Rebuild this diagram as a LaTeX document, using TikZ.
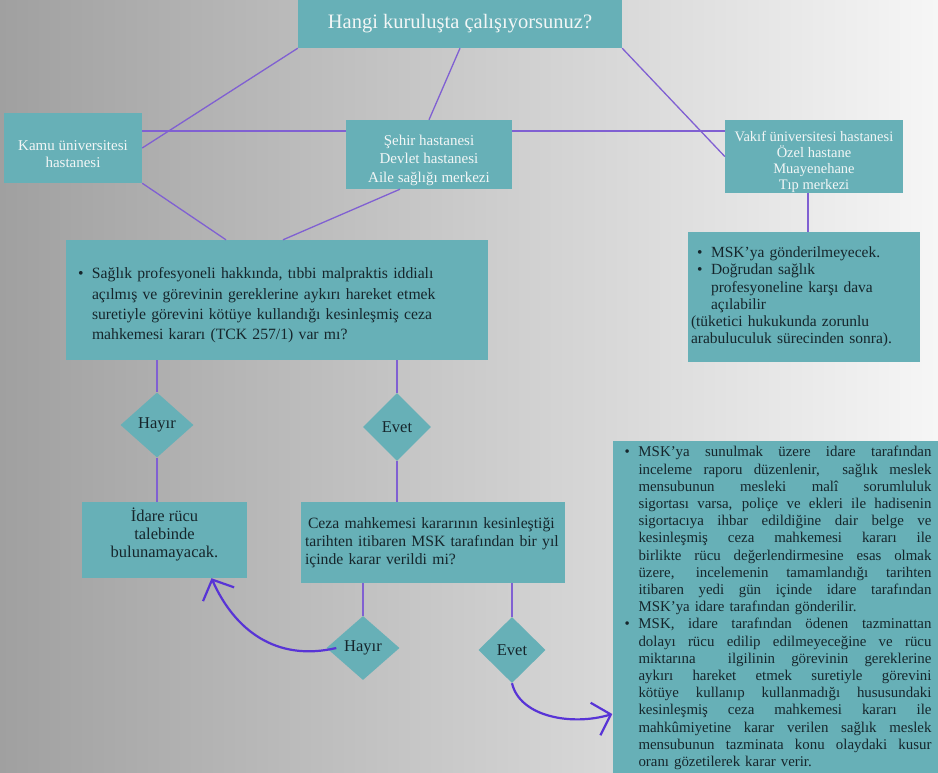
\documentclass[tikz,border=0pt]{standalone}
\usepackage{fontspec}
\setmainfont{Liberation Serif}
\usetikzlibrary{arrows.meta,shapes.geometric}
\definecolor{bgleft}{RGB}{160,160,160}
\definecolor{bgright}{RGB}{246,246,246}
\definecolor{boxteal}{RGB}{103,176,183}
\definecolor{linkpurple}{RGB}{128,96,210}
\definecolor{arrowpurple}{RGB}{88,52,214}
\definecolor{lighttext}{RGB}{242,246,246}
\definecolor{darktext}{RGB}{22,38,44}
\newcommand{\bul}{\makebox[14pt][l]{\textbullet}}
\newcommand{\ind}{\hspace*{14pt}}
\newcommand{\jl}[1]{\makebox[293pt][s]{\spaceskip=0.25em plus 1em minus 0.05em\relax #1}}

\begin{document}
\begin{tikzpicture}[x=1pt,y=-1pt,
  box/.style={rectangle,fill=boxteal,inner sep=0pt},
  topbox/.style={box,text=lighttext,align=center},
  textbox/.style={box,text=darktext},
  choice/.style={diamond,fill=boxteal,inner sep=0pt,text=darktext,font=\fontsize{16.5}{18}\selectfont},
  link/.style={draw=linkpurple,line width=1.3pt},
  jump/.style={draw=arrowpurple,line width=2.2pt,-{Straight Barb[length=16pt,width=34pt]}}]

  \useasboundingbox (0,0) rectangle (938,772);
  \shade[left color=bgleft,right color=bgright] (0,0) rectangle (938,772);

  \node[topbox,minimum width=324pt,minimum height=48pt,font=\fontsize{20.5}{24}\selectfont] (soru) at (460,24) {Hangi kuruluşta çalışıyorsunuz?};
  \node[topbox,minimum width=138pt,minimum height=70pt,text height=40pt,font=\fontsize{15}{17}\selectfont] (kamu) at (73,148) {Kamu üniversitesi\\hastanesi};
  \node[topbox,minimum width=166pt,minimum height=69pt,text height=59pt,font=\fontsize{15}{18.5}\selectfont] (sehir) at (429,154.5) {Şehir hastanesi\\Devlet hastanesi\\Aile sağlığı merkezi};
  \node[topbox,minimum width=178pt,minimum height=73pt,text height=70pt,font=\fontsize{14.5}{16}\selectfont] (vakif) at (814,156.5) {Vakıf üniversitesi hastanesi\\Özel hastane\\Muayenehane\\Tıp merkezi};

  \node[textbox,text width=398pt,inner xsep=12pt,minimum height=120pt,align=left,font=\fontsize{15.7}{20.3}\selectfont] (iddia) at (277,300)
    {\rule{0pt}{22pt}\bul Sağlık profesyoneli hakkında, tıbbi malpraktis iddialı\\
     \ind açılmış ve görevinin gereklerine aykırı hareket etmek\\
     \ind suretiyle görevini kötüye kullandığı kesinleşmiş ceza\\
     \ind mahkemesi kararı (TCK 257/1) var mı?};
  \node[textbox,text width=214pt,inner xsep=9pt,minimum height=130pt,align=left,font=\fontsize{15.5}{17.2}\selectfont] (msk) at (804,297)
    {\bul MSK'ya gönderilmeyecek.\\
     \bul Doğrudan sağlık\\
     \ind profesyoneline karşı dava\\
     \ind açılabilir\\
     \hspace*{-6pt}(tüketici hukukunda zorunlu\\
     \hspace*{-6pt}arabuluculuk sürecinden sonra).};

  \node[choice,minimum width=73pt,minimum height=65pt] (hayir1) at (157,425) {Hayır};
  \node[choice,minimum width=68pt,minimum height=68pt] (evet1) at (397,427) {Evet};

  \node[textbox,minimum width=165pt,minimum height=76pt,text depth=14pt,align=center,font=\fontsize{16.5}{18}\selectfont] (idare) at (164.5,540)
    {İdare rücu\\talebinde\\bulunamayacak.};
  \node[textbox,text width=256pt,inner xsep=4pt,minimum height=81pt,align=left,font=\fontsize{15.7}{18}\selectfont] (ceza) at (433,542.5)
    {\hspace*{3pt}Ceza mahkemesi kararının kesinleştiği\\
     tarihten itibaren MSK tarafından bir yıl\\
     içinde karar verildi mi?};

  \node[choice,minimum width=73pt,minimum height=64pt] (hayir2) at (363,648) {Hayır};
  \node[choice,minimum width=67pt,minimum height=66pt] (evet2) at (512,650) {Evet};

  \node[textbox,text width=307pt,inner xsep=12pt,minimum height=334pt,align=left,font=\fontsize{14.9}{17.2}\selectfont] (rucu) at (778,608)
    {\bul\jl{MSK'ya sunulmak üzere idare tarafından}\\
     \ind\jl{inceleme raporu düzenlenir,\ \ sağlık meslek}\\
     \ind\jl{mensubunun mesleki malî sorumluluk}\\
     \ind\jl{sigortası varsa, poliçe ve ekleri ile hadisenin}\\
     \ind\jl{sigortacıya ihbar edildiğine dair belge ve}\\
     \ind\jl{kesinleşmiş ceza mahkemesi kararı ile}\\
     \ind\jl{birlikte rücu değerlendirmesine esas olmak}\\
     \ind\jl{üzere, incelemenin tamamlandığı tarihten}\\
     \ind\jl{itibaren yedi gün içinde idare tarafından}\\
     \ind MSK'ya idare tarafından gönderilir.\\
     \bul\jl{MSK, idare tarafından ödenen tazminattan}\\
     \ind\jl{dolayı rücu edilip edilmeyeceğine ve rücu}\\
     \ind\jl{miktarına\ \ ilgilinin görevinin gereklerine}\\
     \ind\jl{aykırı hareket etmek suretiyle görevini}\\
     \ind\jl{kötüye kullanıp kullanmadığı hususundaki}\\
     \ind\jl{kesinleşmiş ceza mahkemesi kararı ile}\\
     \ind\jl{mahkûmiyetine karar verilen sağlık meslek}\\
     \ind\jl{mensubunun tazminata konu olaydaki kusur}\\
     \ind oranı gözetilerek karar verir.};

  \coordinate (hat) at (0,131);
  \draw[link] (soru.south west) -- (kamu.east);
  \draw[link] (soru.south) -- (sehir.north);
  \draw[link] (soru.south east) -- (vakif.west);
  \draw[link] (kamu.east |- hat) -- (sehir.west |- hat);
  \draw[link] (sehir.east |- hat) -- (vakif.west |- hat);
  \draw[link] (kamu.south east) -- ([xshift=-51pt]iddia.north);
  \draw[link] ([xshift=-29pt]sehir.south) -- ([xshift=6pt]iddia.north);
  \draw[link] ([xshift=-6pt]vakif.south) -- ([xshift=-6pt]vakif.south |- msk.north);

  \draw[link] (hayir1.north |- iddia.south) -- (hayir1.north);
  \draw[link] (hayir1.south) -- (hayir1.south |- idare.north);
  \draw[link] (evet1.north |- iddia.south) -- (evet1.north);
  \draw[link] (evet1.south) -- (evet1.south |- ceza.north);
  \draw[link] (hayir2.north |- ceza.south) -- (hayir2.north);
  \draw[link] (evet2.north |- ceza.south) -- (evet2.north);

  \draw[jump] ([xshift=10pt]hayir2.west) .. controls +(-60,14) and +(23,52) .. ([xshift=47pt]idare.south);
  \draw[jump] (evet2.south) .. controls +(8,34) and +(-40,12) .. ([yshift=-106pt]rucu.west);
\end{tikzpicture}
\end{document}
